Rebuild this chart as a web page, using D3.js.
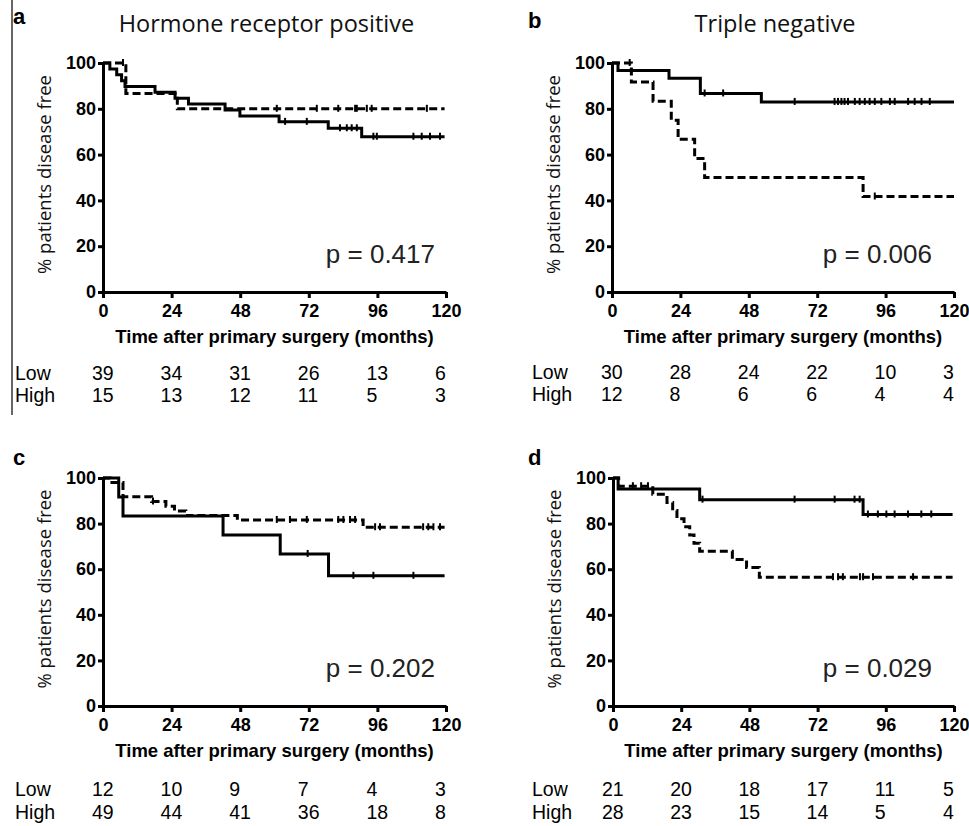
<!DOCTYPE html>
<meta charset="utf-8">
<script src="https://d3js.org/d3.v7.min.js"></script>
<style>
  body { margin: 0; background: #fff; }
  svg { font-family: "Liberation Sans", Arial, sans-serif; }
</style>
<body>
<div id="chart"></div>
<script>
// shared ticks
var months = [0, 24, 48, 72, 96, 120];
var pctTicks = [0, 20, 40, 60, 80, 100];

// a: hormone receptor positive  (solid = Low, dashed = High)
var aLow = [[0,100],[2.4,97.4],[4.8,94.9],[6.5,92.3],[7.7,89.7],[18.2,87.2],[25.2,84.6],[29.9,82.1],[42.7,79.5],[47.9,76.9],[61.6,74.3],[78.8,71.5],[90.5,67.8]];
var aLowCensor = [63.7,71.3,82.9,85.3,87,88.8,94.6,95.8,108.6,111.5,114.4,117.9];
var aHigh = [[0,100],[8,86.7],[26,80]];
var aHighCensor = [7,60.8,74.8,82.3,88.2,88.8,92.3,94,113.3];
var aLowRisk = [39,34,31,26,13,6];
var aHighRisk = [15,13,12,11,5,3];

// b: triple negative
var bLow = [[0,100],[2.1,96.7],[20,93.3],[31,86.7],[52.4,83]];
var bLowCensor = [32.5,39,64.1,78.1,79.3,80.5,81.6,82.8,85.2,86.9,88.7,90.4,92.2,94.5,97.5,99.2,103.9,106.2,108.6,111.5];
var bHigh = [[0,100],[6.8,91.7],[14.4,83.3],[20.8,75],[23.2,66.7],[29,58.3],[32.5,50],[88.1,41.7]];
var bHighCensor = [6.2,92.2];
var bLowRisk = [30,28,24,22,10,3];
var bHighRisk = [12,8,6,6,4,4];

// c
var cLow = [[0,100],[5.5,91.7],[7,83.3],[42,75],[62,66.7],[78.9,57.1]];
var cLowCensor = [71.6,87.6,94.6,108.6];
var cHigh = [[0,100],[2.5,98],[7,91.8],[17,89.7],[22,87.6],[25,85.5],[29,83.5],[47,81.6],[91,78.4]];
var cHighCensor = [17.5,60.8,65.4,71.3,82.3,84.1,86.4,88.2,95.2,96.9,112,113.8,115.6,117.9];
var cLowRisk = [12,10,9,7,4,3];
var cHighRisk = [49,44,41,36,18,8];

// d
var dLow = [[0,100],[1.8,95.2],[30.5,90.5],[88,84]];
var dLowCensor = [31.5,63.9,78,85,86.8,89.7,93.2,96.2,99.1,103.8,108.5,112];
var dHigh = [[0,100],[2,96.4],[14,92.9],[19,89.3],[21,85.7],[22.5,82.1],[25,78.6],[27,75],[28.5,71.4],[30.5,67.9],[42,64.3],[47,60.7],[51.5,56.5]];
var dHighCensor = [7,9.9,12.3,77.4,79.2,80.9,86.9,88,91.5,105.6];
var dLowRisk = [21,20,18,17,11,5];
var dHighRisk = [28,23,15,14,5,4];

var panels = [
  {letter: "a", title: "Hormone receptor positive", left: 103, top: 63, w: 343, h: 229,
   low: aLow, lowC: aLowCensor, high: aHigh, highC: aHighCensor, lowRisk: aLowRisk, highRisk: aHighRisk,
   p: "p = 0.417", pX: 435, letterX: 13, letterY: 24, rowX: 15, riskY: [380, 402], tEnd: 119.5},
  {letter: "b", title: "Triple negative", left: 612, top: 63, w: 342, h: 229,
   low: bLow, lowC: bLowCensor, high: bHigh, highC: bHighCensor, lowRisk: bLowRisk, highRisk: bHighRisk,
   p: "p = 0.006", pX: 932, letterX: 528, letterY: 28, rowX: 532, riskY: [379, 401], tEnd: 120},
  {letter: "c", title: null, left: 103, top: 478, w: 343, h: 228,
   low: cLow, lowC: cLowCensor, high: cHigh, highC: cHighCensor, lowRisk: cLowRisk, highRisk: cHighRisk,
   p: "p = 0.202", pX: 435, letterX: 13, letterY: 465, rowX: 15, riskY: [796, 819], tEnd: 119.5},
  {letter: "d", title: null, left: 613, top: 478, w: 341, h: 228,
   low: dLow, lowC: dLowCensor, high: dHigh, highC: dHighCensor, lowRisk: dLowRisk, highRisk: dHighRisk,
   p: "p = 0.029", pX: 932, letterX: 528, letterY: 465, rowX: 532, riskY: [796, 819], tEnd: 119.5}
];

var svg = d3.select("#chart").append("svg")
    .attr("width", 969)
    .attr("height", 826);

// thin rule on the left of the top-left panel
svg.append("line")
    .attr("x1", 12).attr("x2", 12)
    .attr("y1", 0).attr("y2", 415)
    .attr("stroke", "#333")
    .attr("stroke-width", 1.5);

function valueAt(steps, t) {
  var v = steps[0][1];
  steps.forEach(function(s) { if (s[0] <= t) v = s[1]; });
  return v;
}

panels.forEach(function(p) {
  var x = d3.scaleLinear().domain([0, 120]).range([0, p.w]);
  var y = d3.scaleLinear().domain([0, 100]).range([p.h, 0]);
  var g = svg.append("g").attr("transform", "translate(" + p.left + "," + p.top + ")");

  // panel letter + title
  svg.append("text")
      .attr("x", p.letterX).attr("y", p.letterY)
      .style("font-size", "22px").style("font-weight", "bold")
      .text(p.letter);
  if (p.title) {
    svg.append("text")
        .attr("x", p.left + p.w / 2 - 8).attr("y", 32)
        .attr("text-anchor", "middle")
        .style("font-family", "'Open Sans', sans-serif")
        .style("font-size", "23.5px")
        .style("fill", "#111")
        .text(p.title);
  }

  // axes
  var xAxis = g.append("g")
      .attr("transform", "translate(0," + p.h + ")")
      .call(d3.axisBottom(x).tickValues(months).tickSize(6).tickSizeOuter(0).tickPadding(6));
  var yAxis = g.append("g")
      .call(d3.axisLeft(y).tickValues(pctTicks).tickSize(5).tickSizeOuter(0).tickPadding(2));
  [xAxis, yAxis].forEach(function(ax) {
    ax.selectAll("path, line").attr("stroke", "#000").attr("stroke-width", 3);
    ax.selectAll("text").attr("fill", "#000")
      .style("font-size", "18px").style("font-weight", "bold")
      .style("font-family", "'Liberation Sans', Arial, sans-serif");
  });

  g.append("text")
      .attr("x", p.w / 2).attr("y", p.h + 51)
      .attr("text-anchor", "middle")
      .style("font-size", "18.5px").style("font-weight", "bold")
      .text("Time after primary surgery (months)");

  g.append("text")
      .attr("transform", "translate(-52," + (p.h / 2 - 3) + ")rotate(-90)")
      .attr("text-anchor", "middle")
      .style("font-family", "'Open Sans', sans-serif")
      .style("font-size", "18.5px")
      .style("fill", "#111")
      .text("% patients disease free");

  // curves
  var line = d3.line()
      .x(function(d) { return x(d[0]); })
      .y(function(d) { return y(d[1]); })
      .curve(d3.curveStepAfter);

  [{steps: p.low, cens: p.lowC, dash: null}, {steps: p.high, cens: p.highC, dash: "8,4"}].forEach(function(s) {
    var pts = s.steps.concat([[p.tEnd, s.steps[s.steps.length - 1][1]]]);
    g.append("path")
        .datum(pts)
        .attr("d", line)
        .attr("fill", "none")
        .attr("stroke", "#000")
        .attr("stroke-width", 3)
        .attr("stroke-dasharray", s.dash);
    g.selectAll(null)
        .data(s.cens)
        .enter()
        .append("line")
        .attr("x1", function(t) { return x(t); })
        .attr("x2", function(t) { return x(t); })
        .attr("y1", function(t) { return y(valueAt(s.steps, t)) - 4; })
        .attr("y2", function(t) { return y(valueAt(s.steps, t)) + 3; })
        .attr("stroke", "#000")
        .attr("stroke-width", 2);
  });

  // p value
  svg.append("text")
      .attr("x", p.pX).attr("y", p.top + p.h - 29)
      .attr("text-anchor", "end")
      .style("font-size", "26px")
      .style("fill", "#222")
      .text(p.p);

  // numbers at risk
  [["Low", p.lowRisk], ["High", p.highRisk]].forEach(function(row, i) {
    svg.append("text")
        .attr("x", p.rowX).attr("y", p.riskY[i])
        .style("font-size", "19.5px")
        .text(row[0]);
    svg.selectAll(null)
        .data(row[1])
        .enter()
        .append("text")
        .attr("x", function(d, j) { return p.left + x(months[j]) - 11; })
        .attr("y", p.riskY[i])
        .style("font-size", "19.5px")
        .text(function(d) { return d; });
  });
});
</script>
</body>
